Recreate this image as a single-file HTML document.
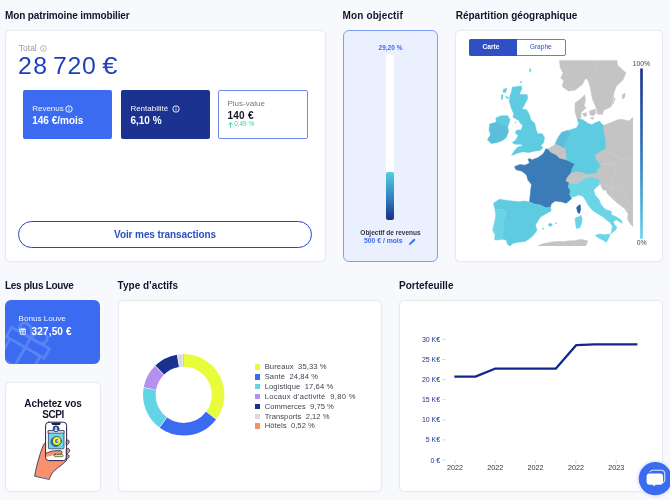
<!DOCTYPE html>
<html lang="fr"><head><meta charset="utf-8"><title>Louve Invest – Tableau de bord</title>
<style>
html,body{margin:0;padding:0}
body{width:670px;height:500px;overflow:hidden;position:relative;background:#f8f9fd;font-family:"Liberation Sans", sans-serif;}
.t{position:absolute;white-space:nowrap;margin:0}
.b{position:absolute;box-sizing:border-box;display:block}
</style></head>
<body>
<div class="t" style="left:5.00px;top:10.64px;font-size:10px;line-height:10px;color:#14142b;font-weight:bold;letter-spacing:-0.13px;">Mon patrimoine immobilier</div>
<div class="t" style="left:342.60px;top:10.64px;font-size:10px;line-height:10px;color:#14142b;font-weight:bold;letter-spacing:0.12px;">Mon objectif</div>
<div class="t" style="left:455.70px;top:10.64px;font-size:10px;line-height:10px;color:#14142b;font-weight:bold;">Répartition géographique</div>
<div class="t" style="left:5.00px;top:281.44px;font-size:10px;line-height:10px;color:#14142b;font-weight:bold;letter-spacing:-0.3px;">Les plus Louve</div>
<div class="t" style="left:117.60px;top:281.44px;font-size:10px;line-height:10px;color:#14142b;font-weight:bold;">Type d’actifs</div>
<div class="t" style="left:399.00px;top:281.44px;font-size:10px;line-height:10px;color:#14142b;font-weight:bold;">Portefeuille</div>
<div class="b" style="left:5px;top:30px;width:321px;height:232px;background:#fff;border:1px solid #e9eaf0;border-radius:5px;box-shadow:0 0 1.5px rgba(120,125,160,0.10);"></div>
<div class="t" style="left:18.80px;top:43.80px;font-size:8.5px;line-height:8.5px;color:#9a9a9f;">Total</div>
<svg class="b" style="left:39.5px;top:45.2px" width="7" height="7" viewBox="0 0 7 7"><circle cx="3.5" cy="3.5" r="2.9" fill="none" stroke="#9a9a9f" stroke-width="0.7"/><path d="M3.5 3.2v1.8M3.5 2v.5" stroke="#9a9a9f" stroke-width="0.7"/></svg>
<div class="t" style="left:17.50px;top:54.53px;font-size:23px;line-height:23px;color:#1d3fc0;letter-spacing:0.6px;white-space:pre;word-spacing:-2.9px;transform:scaleX(1.08);transform-origin:0 0;"><span style="letter-spacing:1.4px">28</span> 720 <span style="display:inline-block;margin-left:1.6px;transform:scaleX(1.1);transform-origin:0 0">€</span></div>
<div class="b" style="left:23px;top:90px;width:89.3px;height:49px;background:#3a6bf0;border-radius:2px;"></div>
<div class="t" style="left:32.20px;top:104.83px;font-size:8px;line-height:8px;color:#f2f5ff;">Revenus</div>
<svg class="b" style="left:65.3px;top:104.6px" width="8" height="8" viewBox="0 0 8 8"><circle cx="4" cy="4" r="3.2" fill="none" stroke="#fff" stroke-width="0.9"/><path d="M4 3.6v2M4 2.2v.7" stroke="#fff" stroke-width="0.9"/></svg>
<div class="t" style="left:32.20px;top:115.53px;font-size:10px;line-height:10px;color:#fff;font-weight:bold;">146 €/mois</div>
<div class="b" style="left:120.7px;top:90px;width:88.99999999999999px;height:49px;background:#1c3291;border-radius:2px;"></div>
<div class="t" style="left:130.40px;top:104.83px;font-size:8px;line-height:8px;color:#f2f5ff;">Rentabilité</div>
<svg class="b" style="left:172.3px;top:104.6px" width="8" height="8" viewBox="0 0 8 8"><circle cx="4" cy="4" r="3.2" fill="none" stroke="#fff" stroke-width="0.9"/><path d="M4 3.6v2M4 2.2v.7" stroke="#fff" stroke-width="0.9"/></svg>
<div class="t" style="left:130.40px;top:115.53px;font-size:10px;line-height:10px;color:#fff;font-weight:bold;">6,10 %</div>
<div class="b" style="left:218px;top:90px;width:90px;height:49px;background:#fff;border:1px solid #6f8ce6;border-radius:2px;"></div>
<div class="t" style="left:227.50px;top:99.73px;font-size:8px;line-height:8px;color:#77777f;">Plus-value</div>
<div class="t" style="left:227.50px;top:110.53px;font-size:10px;line-height:10px;color:#14142b;font-weight:bold;letter-spacing:0.25px;">140 €</div>
<svg class="b" style="left:228px;top:122.4px" width="5" height="5.6" viewBox="0 0 5 5.6"><path d="M2.5 5.4V.9M.5 2.7l2-2 2 2" fill="none" stroke="#36d190" stroke-width="0.9"/></svg>
<div class="t" style="left:234.20px;top:121.38px;font-size:6.4px;line-height:6.4px;color:#36d190;">0,49 %</div>
<div class="b" style="left:18px;top:221px;width:294px;height:27px;background:#fff;border:1.4px solid #2546c1;border-radius:14px;"></div>
<div class="t" style="left:18.00px;top:229.53px;font-size:10px;line-height:10px;color:#2a4fc4;font-weight:bold;width:294px;text-align:center;letter-spacing:-0.09px;">Voir mes transactions</div>
<div class="b" style="left:343px;top:30px;width:95px;height:232px;background:#eaf0fe;border:1px solid #7d9ff6;border-radius:6px;"></div>
<div class="t" style="left:343.00px;top:44.80px;font-size:6.5px;line-height:6.5px;color:#3a6bf0;font-weight:bold;width:95px;text-align:center;">29,20 %</div>
<div class="b" style="left:385.8px;top:54px;width:8.5px;height:166px;background:#fff;border-radius:4.25px 4.25px 2px 2px;"></div>
<div class="b" style="left:385.8px;top:171.5px;width:8.5px;height:48.5px;background:linear-gradient(#52d0e2,#2f7fc0 55%,#1b2c8c);border-radius:1.5px 1.5px 2px 2px;"></div>
<div class="t" style="left:343.00px;top:229.80px;font-size:6.5px;line-height:6.5px;color:#33334a;font-weight:bold;width:95px;text-align:center;letter-spacing:0.0px;">Objectif de revenus</div>
<div class="t" style="left:364.00px;top:238.24px;font-size:6.8px;line-height:6.8px;color:#3a6bf0;font-weight:bold;">500 € / mois</div>
<svg class="b" style="left:407.5px;top:237.5px" width="8" height="8" viewBox="0 0 8 8"><path d="M1 7l.4-1.8L5.6 1a.8.8 0 0 1 1.1 0l.3.3a.8.8 0 0 1 0 1.1L2.8 6.6z" fill="#3a6bf0"/></svg>
<div class="b" style="left:455px;top:30px;width:208px;height:232px;background:#fff;border:1px solid #e9eaf0;border-radius:5px;box-shadow:0 0 1.5px rgba(120,125,160,0.10);"></div>
<div class="b" style="left:469px;top:39px;width:97px;height:16.5px;background:#fff;border:1px solid #5f7fe0;border-radius:2px;"></div>
<div class="b" style="left:469px;top:39px;width:48px;height:16.5px;background:#2f4fc4;border-radius:2px 0 0 2px;"></div>
<div class="t" style="left:467.00px;top:44.11px;font-size:6.6px;line-height:6.6px;color:#fff;font-weight:bold;width:48px;text-align:center;">Carte</div>
<div class="t" style="left:516.30px;top:44.11px;font-size:6.6px;line-height:6.6px;color:#2f4fc4;width:49px;text-align:center;">Graphe</div>
<svg class="b" style="left:480px;top:58px" width="156" height="190" viewBox="480 58 156 190">
<defs><clipPath id="mc"><rect x="480" y="60.2" width="153" height="185.8"/></clipPath></defs>
<g clip-path="url(#mc)" stroke-width="0.5" stroke-linejoin="round">
<polygon points="617.0,60.2 617.7,65.5 621.5,68.5 626.0,73.0 623.0,79.7 616.2,86.5 614.0,92.5 612.5,103.0 611.0,106.7 603.5,110.5 602.7,114.2 597.5,114.2 596.0,107.5 592.2,98.5 590.7,89.5 589.2,83.5 587.0,78.2 584.7,79.7 582.5,84.2 575.0,90.2 568.2,91.0 562.2,86.5 563.7,80.5 560.7,78.2 563.0,73.0 560.0,67.0 559.5,60.2" fill="#c4c4c4" stroke="#c4c4c4"/>
<polygon points="575.0,103.0 581.0,98.5 584.7,94.7 585.5,100.0 584.0,106.0 586.2,107.5 584.0,109.7 581.0,112.7 581.0,118.0 577.2,118.7 575.0,112.0" fill="#c4c4c4" stroke="#c4c4c4"/>
<polygon points="582.5,113.5 586.2,112.7 587.0,115.7 584.0,116.5" fill="#c4c4c4" stroke="#c4c4c4"/>
<polygon points="589.2,111.2 595.2,109.0 596.0,113.5 593.0,115.7 590.0,115.0" fill="#c4c4c4" stroke="#c4c4c4"/>
<polygon points="590.0,118.0 593.7,117.2 593.0,119.5" fill="#c4c4c4" stroke="#c4c4c4"/>
<polygon points="622.2,94.7 625.2,93.2 624.5,97.7 622.7,99.2" fill="#c4c4c4" stroke="#c4c4c4"/>
<polygon points="614.0,97.7 615.2,98.5 613.2,104.5" fill="#c4c4c4" stroke="#c4c4c4"/>
<polygon points="603.5,125.5 611.0,122.5 618.5,119.5 623.0,119.5 629.0,121.0 633.0,117.2 633.0,226.5 630.5,224.2 627.5,219.0 628.2,213.7 624.5,208.5 618.5,204.0 612.5,198.7 607.2,193.5 605.7,189.7 603.5,190.5 601.2,186.7 599.7,180.0 596.0,178.2 590.0,177.5 584.7,178.2 586.2,174.2 592.2,173.5 596.7,172.7 597.5,169.0 601.2,166.0 599.0,163.0 595.2,158.5 595.2,154.7 599.7,151.7 605.0,148.7 605.7,145.0 605.0,137.5 603.5,131.5" fill="#c4c4c4" stroke="#c4c4c4"/>
<polygon points="512.2,87.2 521.2,86.0 522.0,88.7 519.3,94.3 527.2,94.7 527.7,98.5 523.5,106.7 521.7,109.0 526.5,109.7 529.5,115.0 531.0,120.2 534.7,123.2 536.2,130.0 537.7,133.7 542.2,133.7 544.5,137.5 543.7,142.7 540.7,145.7 543.0,147.2 540.7,150.2 535.5,151.0 528.0,152.5 522.7,151.7 517.5,153.2 511.5,155.5 513.7,151.7 517.5,147.2 522.7,145.7 520.5,144.2 515.2,144.2 512.2,142.7 516.0,139.7 518.2,135.2 515.2,133.0 516.7,130.0 521.2,130.0 522.7,125.5 519.7,122.5 519.3,121.0 516.0,118.7 513.0,117.2 513.7,113.5 512.2,110.5 510.7,106.0 509.2,101.5 510.0,95.5 511.5,91.7" fill="#5ecbe0" stroke="#5ecbe0"/>
<polygon points="503.2,89.5 507.0,88.0 505.5,92.5 503.2,92.5" fill="#5ecbe0" stroke="#5ecbe0"/>
<polygon points="501.5,95.0 503.0,94.5 502.5,99.0 501.3,99.5" fill="#5ecbe0" stroke="#5ecbe0"/>
<polygon points="505.5,96.0 508.5,97.5 507.5,99.0" fill="#5ecbe0" stroke="#5ecbe0"/>
<polygon points="529.5,69.2 530.7,68.7 530.7,71.7 529.5,71.5" fill="#5ecbe0" stroke="#5ecbe0"/>
<polygon points="520.0,82.0 521.5,81.5 521.3,83.0" fill="#5ecbe0" stroke="#5ecbe0"/>
<polygon points="495.7,118.0 501.0,115.7 507.7,115.7 510.0,119.5 509.2,122.5 507.7,127.0 504.0,124.7 499.5,124.0 496.5,121.5" fill="#5ecbe0" stroke="#5ecbe0"/>
<polygon points="515.0,122.0 516.0,121.6 515.8,123.0 515.0,123.2" fill="#c4c4c4" stroke="#c4c4c4"/>
<polygon points="489.7,124.0 495.0,122.5 496.5,121.3 499.5,124.0 504.0,124.7 507.7,127.0 508.5,131.5 506.2,137.5 502.5,140.5 496.5,142.7 491.2,143.5 487.5,139.7 490.5,134.5 489.0,130.0" fill="#5bbedb" stroke="#5bbedb"/>
<polygon points="577.2,118.7 582.5,119.5 587.7,123.2 591.5,124.7 596.0,122.5 599.7,121.0 600.5,122.5 603.5,125.5 603.5,131.5 605.0,137.5 605.7,145.0 605.0,148.7 599.7,151.7 595.2,154.7 595.2,158.5 599.0,163.0 601.2,166.0 597.5,169.0 596.7,172.7 592.2,173.5 586.2,174.2 581.0,172.7 578.0,172.0 572.7,172.7 569.8,174.4 571.4,169.0 574.2,164.5 566.0,160.7 566.0,154.7 564.5,148.7 565.2,142.0 569.0,137.5 569.7,130.0 576.5,127.7 578.7,124.0" fill="#5ecbe0" stroke="#5ecbe0"/>
<polygon points="555.0,144.2 558.0,137.5 561.7,132.2 568.5,130.0 570.0,133.0 569.0,137.5 565.2,142.0 564.6,147.5 563.2,148.7 561.7,147.0 558.0,145.4" fill="#5bbedb" stroke="#5bbedb"/>
<polygon points="548.2,148.7 552.0,146.5 555.0,144.4 558.0,145.4 561.7,147.0 563.2,148.7 564.6,148.0 566.0,154.7 566.2,160.7 564.0,159.2 559.5,158.0 556.5,155.4 550.5,152.4" fill="#c4c4c4" stroke="#c4c4c4"/>
<polygon points="546.0,148.7 548.2,149.5 550.5,152.5 556.5,155.5 559.5,158.5 565.5,160.0 574.2,164.3 571.5,169.0 570.0,174.2 567.0,178.0 566.2,181.0 569.2,182.5 568.2,186.7 570.5,190.5 569.7,194.2 571.5,198.7 566.2,203.2 561.0,201.7 555.0,201.0 551.2,204.0 550.5,207.0 546.0,207.7 540.0,204.7 534.7,204.0 529.5,201.7 530.2,195.0 531.0,187.5 531.7,184.7 528.0,180.2 526.5,175.0 522.0,171.2 516.0,169.7 514.5,166.7 519.7,164.5 525.0,165.2 529.5,163.0 528.0,159.2 530.2,158.5 531.7,160.0 537.7,157.7 543.0,154.0" fill="#3b7cb8" stroke="#3b7cb8"/>
<polygon points="566.2,181.0 567.0,178.0 570.0,174.2 572.7,172.7 578.0,172.0 581.0,172.7 586.2,174.2 584.7,178.0 582.5,180.2 578.7,182.5 576.5,184.0 572.7,183.2 569.0,184.5 569.2,182.5" fill="#c4c4c4" stroke="#c4c4c4"/>
<polygon points="569.0,184.5 572.7,183.2 576.5,184.2 578.7,182.5 582.5,180.5 584.7,178.2 590.0,177.5 596.0,178.2 599.7,180.0 599.7,184.5 596.0,187.5 593.7,190.5 595.2,195.0 599.0,199.5 601.2,204.7 605.0,209.2 611.7,211.5 611.0,214.5 617.7,217.5 621.5,220.5 622.2,223.5 620.0,222.0 616.2,219.7 613.2,222.0 614.7,225.0 617.0,227.2 615.5,230.2 613.2,231.7 611.0,234.0 611.7,230.2 612.5,226.5 610.2,222.7 607.2,220.5 602.7,216.7 597.5,213.7 592.2,210.0 588.5,205.5 585.5,200.2 583.2,196.5 578.7,195.0 575.0,196.5 571.2,197.2 569.7,194.2 570.5,190.5 568.2,186.7" fill="#6ad5e5" stroke="#6ad5e5"/>
<polygon points="595.2,235.5 599.0,234.0 604.2,234.7 608.7,234.0 610.2,234.7 608.0,239.2 606.5,242.2 602.7,240.0 598.2,237.7" fill="#6ad5e5" stroke="#6ad5e5"/>
<polygon points="575.7,217.5 578.7,216.7 581.0,215.2 582.2,218.2 581.7,222.7 580.2,227.2 576.5,228.7 575.7,224.2 575.0,219.7" fill="#6ad5e5" stroke="#6ad5e5"/>
<polygon points="576.5,207.7 578.7,205.2 580.2,204.7 580.7,209.2 579.5,213.7 577.7,212.2" fill="#2a62ab" stroke="#2a62ab"/>
<polygon points="493.5,203.2 499.5,199.2 505.5,200.2 511.5,201.0 519.0,201.7 525.0,201.0 529.5,202.0 534.7,204.3 540.0,205.0 546.0,208.0 550.5,207.3 551.2,210.7 546.0,213.7 540.7,216.7 537.7,221.2 535.5,225.0 537.0,230.2 533.2,235.5 528.7,239.2 525.0,241.5 517.5,242.2 512.2,243.7 510.0,246.0 507.7,244.5 506.2,240.0 502.5,239.2 502.5,235.5 504.0,229.5 502.5,223.5 504.7,217.5 506.2,211.5 501.7,209.2 495.0,209.2" fill="#5ecbe0" stroke="#5ecbe0"/>
<polygon points="495.0,209.2 501.7,209.2 506.2,211.5 504.7,217.5 502.5,223.5 504.0,229.5 502.5,235.5 502.5,239.2 498.0,240.0 494.7,240.0 495.0,234.7 492.7,230.2 494.2,223.5 495.7,216.0" fill="#6ad3e4" stroke="#6ad3e4"/>
<polygon points="548.2,224.2 550.5,223.2 552.4,224.5 550.8,226.5 549.0,225.7" fill="#5ecbe0" stroke="#5ecbe0"/>
<polygon points="555.0,222.7 556.5,223.2 556.0,224.0" fill="#5ecbe0" stroke="#5ecbe0"/>
<polygon points="542.2,228.7 543.7,228.0 543.5,229.2" fill="#5ecbe0" stroke="#5ecbe0"/>
<polygon points="537.7,246.0 543.0,243.7 550.5,242.2 556.5,241.5 564.0,241.5 570.0,240.7 575.0,240.7 581.0,239.2 584.0,240.0 587.7,240.7 586.2,245.2 584.7,246.0" fill="#c4c4c4" stroke="#c4c4c4"/>
<g fill="none" stroke="#d3d3d3" stroke-width="0.45"><polyline points="595.2,60.2 596,67 593.7,71.5 591.5,77.5 589.2,83.5"/><polyline points="605.6,151 614,154.6 622.4,159.4 632.7,158.2"/><polyline points="597.2,166.6 604,163.5 612.8,164.2 622.4,159.4"/><polyline points="612.8,164.2 616.4,171.4 612.8,178.6 610.4,187"/><polyline points="616.4,171.4 626,169 632.7,166.6"/><polyline points="600.8,184.6 610.4,187 620,189.4 626,184.6 632.7,183.4"/><polyline points="610.4,187 612.8,196.6 623.6,206.2 628.4,211"/><polyline points="620,189.4 626,194.2 628.4,203.8 623.6,206.2"/><polyline points="584.7,178 586.5,176.2 590,175.8"/></g>
</g>
</svg>
<svg class="b" style="left:630px;top:58px" width="24" height="192" viewBox="630 58 24 192" font-family='"Liberation Sans", sans-serif'><defs><linearGradient id="lg" x1="0" y1="0" x2="0" y2="1"><stop offset="0" stop-color="#1b2c8c"/><stop offset="0.55" stop-color="#2f7fc0"/><stop offset="1" stop-color="#62d4ea"/></linearGradient></defs><rect x="640.2" y="68.5" width="2.6" height="170.3" fill="url(#lg)"/><text x="641.4" y="65.9" font-size="6.8" fill="#44444f" text-anchor="middle">100%</text><text x="641.7" y="245.3" font-size="6.8" fill="#44444f" text-anchor="middle">0%</text></svg>
<div class="b" style="left:5px;top:299.6px;width:95.3px;height:64.89999999999998px;background:#3a6bf0;border-radius:6px;overflow:hidden;"><svg style="position:absolute;left:0;top:0" width="95" height="65" viewBox="5 300 95 65"><g transform="translate(11.7 327.2) rotate(29.7) scale(2.175) translate(-2 -7)" fill="none" stroke="#5a84f3" stroke-width="1.3"><path d="M20 12v10H4V12"/><rect x="2" y="7" width="20" height="5"/><path d="M12 22V7"/><path d="M12 7H7.5a2.5 2.5 0 0 1 0-5C11 2 12 7 12 7z"/><path d="M12 7h4.5a2.5 2.5 0 0 0 0-5C13 2 12 7 12 7z"/></g></svg></div>
<div class="t" style="left:18.60px;top:315.24px;font-size:8.1px;line-height:8.1px;color:#f2f5ff;">Bonus Louve</div>
<div class="t" style="left:31.60px;top:326.64px;font-size:10px;line-height:10px;color:#fff;font-weight:bold;letter-spacing:0.15px;">327,50 €</div>
<svg class="b" style="left:18.8px;top:327.4px" width="7.6" height="8" viewBox="0 0 24 25" fill="none" stroke="#fff" stroke-width="2.4"><path d="M20 13v10H4V13"/><rect x="2" y="8" width="20" height="5"/><path d="M12 23V8"/><path d="M12 8H8a2 2 0 0 1 0-4.5C11 3.500 12 8 12 8z"/><path d="M12 8h4a2 2 0 0 0 0-4.500C13 3.500 12 8 12 8z"/></svg>
<div class="b" style="left:5px;top:382px;width:96px;height:110px;background:#fff;border:1px solid #e9eaf0;border-radius:5px;box-shadow:0 0 1.5px rgba(120,125,160,0.10);"></div>
<div class="t" style="left:5.00px;top:399.14px;font-size:10px;line-height:10px;color:#14142b;font-weight:bold;width:96px;text-align:center;letter-spacing:-0.1px;">Achetez vos</div>
<div class="t" style="left:5.00px;top:409.54px;font-size:10px;line-height:10px;color:#14142b;font-weight:bold;width:96px;text-align:center;letter-spacing:-0.4px;">SCPI</div>
<svg class="b" style="left:30px;top:418px" width="46" height="62" viewBox="30 418 46 62" stroke-linejoin="round" stroke-linecap="round">
<path d="M34.7 475.8C35.6 470 37.5 462.5 40.3 453.5c1.2-3.8 2.6-7.4 3.6-9.3.7-1.3 2-1.6 2.5-.6.6 1.300.2 4.400-.2 7.600l-.2 3.800c2.500-1.500 5.500-2.400 8.800-2.700l7-.6c2.200-.2 2.400 2.300.3 2.800l-6.300 1.400 8.600-.4 2.500 4.500-3.500 3.600c-3 2.600-6.500 4.400-9.500 7.600-2.200 2.400-3.800 5.200-4.600 7.900z" fill="#f9916f" stroke="#1b2550" stroke-width="0.8"/>
<rect x="45.600" y="422.200" width="21" height="38.400" rx="3.200" fill="#fff" stroke="#1b2550" stroke-width="1"/>
<path d="M51.500 422.700h9.200v.8a1.400 1.400 0 0 1-1.400 1.400h-6.400a1.400 1.400 0 0 1-1.400-1.400z" fill="#1b2550"/>
<rect x="48.400" y="430.600" width="15.600" height="18.200" rx="0.800" fill="#6fd6e8" stroke="#1b2550" stroke-width="0.700"/>
<rect x="48.400" y="430.600" width="15.600" height="2.600" fill="#dfe3ea" stroke="#1b2550" stroke-width="0.600"/>
<circle cx="56" cy="428.800" r="3" fill="#2f55c8" stroke="#1b2550" stroke-width="0.600"/>
<circle cx="56" cy="428.200" r="1" fill="#e6eeff"/><path d="M54.300 431a1.700 1.700 0 0 1 3.400 0z" fill="#e6eeff" stroke="none"/>
<circle cx="55.600" cy="441.800" r="4.700" fill="#2f8fd0" stroke="#1b2550" stroke-width="0.600"/>
<circle cx="56.800" cy="441" r="4.500" fill="#e9f23c" stroke="#1b2550" stroke-width="0.700"/>
<text x="56.700" y="443.200" font-size="6.200" font-weight="bold" font-family='"Liberation Sans", sans-serif' fill="#2f55c8" text-anchor="middle" stroke="none">€</text>
<path d="M46.100 453.400c2.700-1.500 5.400-2.400 8.400-2.600l5.600-.2c2.400 0 2.600 3.300.2 3.600l-6.300.8-7.900 2z" fill="#f9916f" stroke="none"/><path d="M46.100 453.400c2.700-1.500 5.400-2.400 8.400-2.600l5.600-.2c2.400 0 2.600 3.300.2 3.600l-6.300.8" fill="none" stroke="#1b2550" stroke-width="0.800"/>
<rect x="54.200" y="454.300" width="8.800" height="2.400" rx="1.200" fill="#e9f23c" stroke="#1b2550" stroke-width="0.600"/>
<path d="M66.600 440.200c1.400-.9 2.600 0 2.500 1.500-.1 1.500-1 2.800-2.500 3.200z" fill="#f9916f" stroke="#1b2550" stroke-width="0.800"/>
<path d="M66.600 448.800c1.800-.8 3.300.2 3.100 1.800-.2 1.600-1.400 2.800-3.100 3z" fill="#f9916f" stroke="#1b2550" stroke-width="0.800"/>
<path d="M66.600 454.600c1.700-.4 2.800.7 2.500 2.100-.3 1.300-1.200 2.100-2.500 2.300z" fill="#f9916f" stroke="#1b2550" stroke-width="0.800"/>
</svg>
<div class="b" style="left:118px;top:300px;width:264px;height:192px;background:#fff;border:1px solid #e9eaf0;border-radius:5px;box-shadow:0 0 1.5px rgba(120,125,160,0.10);"></div>
<svg class="b" style="left:138px;top:349px" width="92" height="92" viewBox="138 349 92 92">
<circle cx="183.7" cy="394.8" r="34.4" fill="none" stroke="#e8fc3c" stroke-width="12.6" stroke-dasharray="75.86 216.14" stroke-dashoffset="0.00" transform="rotate(-90 183.7 394.8)"/>
<circle cx="183.7" cy="394.8" r="34.4" fill="none" stroke="#3a6bf0" stroke-width="12.6" stroke-dasharray="53.19 216.14" stroke-dashoffset="-76.36" transform="rotate(-90 183.7 394.8)"/>
<circle cx="183.7" cy="394.8" r="34.4" fill="none" stroke="#62d4e6" stroke-width="12.6" stroke-dasharray="37.63 216.14" stroke-dashoffset="-130.05" transform="rotate(-90 183.7 394.8)"/>
<circle cx="183.7" cy="394.8" r="34.4" fill="none" stroke="#b68ff0" stroke-width="12.6" stroke-dasharray="20.68 216.14" stroke-dashoffset="-168.18" transform="rotate(-90 183.7 394.8)"/>
<circle cx="183.7" cy="394.8" r="34.4" fill="none" stroke="#1a3190" stroke-width="12.6" stroke-dasharray="20.57 216.14" stroke-dashoffset="-189.36" transform="rotate(-90 183.7 394.8)"/>
<circle cx="183.7" cy="394.8" r="34.4" fill="none" stroke="#d9dade" stroke-width="12.6" stroke-dasharray="4.08 216.14" stroke-dashoffset="-210.44" transform="rotate(-90 183.7 394.8)"/>
<circle cx="183.7" cy="394.8" r="34.4" fill="none" stroke="#fa8c6a" stroke-width="12.6" stroke-dasharray="0.62 216.14" stroke-dashoffset="-215.02" transform="rotate(-90 183.7 394.8)"/>
</svg>
<div class="b" style="left:254.5px;top:364.3px;width:5.399999999999977px;height:5.399999999999977px;background:#e8fc3c;"></div>
<div class="t" style="left:264.70px;top:363.27px;font-size:7.6px;line-height:7.6px;color:#3f3f4c;letter-spacing:0.1px;white-space:pre;">Bureaux  35,33 %</div>
<div class="b" style="left:254.5px;top:374.15px;width:5.399999999999977px;height:5.400000000000034px;background:#3a6bf0;"></div>
<div class="t" style="left:264.70px;top:373.12px;font-size:7.6px;line-height:7.6px;color:#3f3f4c;letter-spacing:0.1px;white-space:pre;">Santé  24,84 %</div>
<div class="b" style="left:254.5px;top:384.0px;width:5.399999999999977px;height:5.399999999999977px;background:#62d4e6;"></div>
<div class="t" style="left:264.70px;top:382.97px;font-size:7.6px;line-height:7.6px;color:#3f3f4c;letter-spacing:0.1px;white-space:pre;">Logistique  17,64 %</div>
<div class="b" style="left:254.5px;top:393.85px;width:5.399999999999977px;height:5.399999999999977px;background:#b68ff0;"></div>
<div class="t" style="left:264.70px;top:392.82px;font-size:7.6px;line-height:7.6px;color:#3f3f4c;letter-spacing:0.28px;white-space:pre;">Locaux d’activité  9,80 %</div>
<div class="b" style="left:254.5px;top:403.7px;width:5.399999999999977px;height:5.400000000000034px;background:#1a3190;"></div>
<div class="t" style="left:264.70px;top:402.67px;font-size:7.6px;line-height:7.6px;color:#3f3f4c;letter-spacing:0.02px;white-space:pre;">Commerces  9,75 %</div>
<div class="b" style="left:254.5px;top:413.55px;width:5.399999999999977px;height:5.399999999999977px;background:#d9dade;"></div>
<div class="t" style="left:264.70px;top:412.52px;font-size:7.6px;line-height:7.6px;color:#3f3f4c;letter-spacing:0.06px;white-space:pre;">Transports  2,12 %</div>
<div class="b" style="left:254.5px;top:423.4px;width:5.399999999999977px;height:5.400000000000034px;background:#fa8c6a;"></div>
<div class="t" style="left:264.70px;top:422.37px;font-size:7.6px;line-height:7.6px;color:#3f3f4c;letter-spacing:0.06px;white-space:pre;">Hôtels  0,52 %</div>
<div class="b" style="left:398.6px;top:300px;width:264.4px;height:192px;background:#fff;border:1px solid #e9eaf0;border-radius:5px;box-shadow:0 0 1.5px rgba(120,125,160,0.10);"></div>
<svg class="b" style="left:398px;top:300px" width="266" height="192" viewBox="398 300 266 192" font-family='"Liberation Sans", sans-serif'>
<text x="440.2" y="462.5" font-size="7" fill="#1c3291" text-anchor="end">0 €</text>
<path d="M442 460.0h3.2" stroke="#cdced5" stroke-width="0.8"/>
<text x="440.2" y="442.4" font-size="7" fill="#1c3291" text-anchor="end">5 K€</text>
<path d="M442 439.9h3.2" stroke="#cdced5" stroke-width="0.8"/>
<text x="440.2" y="422.3" font-size="7" fill="#1c3291" text-anchor="end">10 K€</text>
<path d="M442 419.8h3.2" stroke="#cdced5" stroke-width="0.8"/>
<text x="440.2" y="402.2" font-size="7" fill="#1c3291" text-anchor="end">15 K€</text>
<path d="M442 399.7h3.2" stroke="#cdced5" stroke-width="0.8"/>
<text x="440.2" y="382.1" font-size="7" fill="#1c3291" text-anchor="end">20 K€</text>
<path d="M442 379.6h3.2" stroke="#cdced5" stroke-width="0.8"/>
<text x="440.2" y="362.0" font-size="7" fill="#1c3291" text-anchor="end">25 K€</text>
<path d="M442 359.5h3.2" stroke="#cdced5" stroke-width="0.8"/>
<text x="440.2" y="341.9" font-size="7" fill="#1c3291" text-anchor="end">30 K€</text>
<path d="M442 339.4h3.2" stroke="#cdced5" stroke-width="0.8"/>
<path d="M455 460.2v3.2" stroke="#cdced5" stroke-width="0.8"/>
<text x="455" y="470.2" font-size="7.2" fill="#33333f" text-anchor="middle">2022</text>
<path d="M495.3 460.2v3.2" stroke="#cdced5" stroke-width="0.8"/>
<text x="495.3" y="470.2" font-size="7.2" fill="#33333f" text-anchor="middle">2022</text>
<path d="M535.6 460.2v3.2" stroke="#cdced5" stroke-width="0.8"/>
<text x="535.6" y="470.2" font-size="7.2" fill="#33333f" text-anchor="middle">2022</text>
<path d="M575.9 460.2v3.2" stroke="#cdced5" stroke-width="0.8"/>
<text x="575.9" y="470.2" font-size="7.2" fill="#33333f" text-anchor="middle">2022</text>
<path d="M616.2 460.2v3.2" stroke="#cdced5" stroke-width="0.8"/>
<text x="616.2" y="470.2" font-size="7.2" fill="#33333f" text-anchor="middle">2023</text>
<polyline points="454.4,376.6 475.4,376.6 494.9,368.7 555.7,368.7 576.3,345.1 594.5,344.4 637.4,344.4" fill="none" stroke="#11278a" stroke-width="2.3" stroke-linejoin="round"/>
</svg>
<svg class="b" style="left:634px;top:458px" width="36" height="42" viewBox="634 458 36 42">
<circle cx="655.3" cy="478.9" r="19" fill="#dfe6fb" opacity="0.55"/>
<circle cx="655.3" cy="478.7" r="16.6" fill="#3a6bf0"/>
<path d="M649.8 472.2a3 3 0 0 1 3-2h8.6a3.4 3.4 0 0 1 3.4 3.4v6.4a3 3 0 0 1-2 2.8" fill="none" stroke="#fff" stroke-width="0.9"/>
<path d="M649.6 473.4h10.4a3 3 0 0 1 3 3v5.4a3 3 0 0 1-3 3h-4.6l-1.3 1.6-1.3-1.6h-3.2a3 3 0 0 1-3-3v-5.4a3 3 0 0 1 3-3z" fill="#fff"/>
</svg>
</body></html>
